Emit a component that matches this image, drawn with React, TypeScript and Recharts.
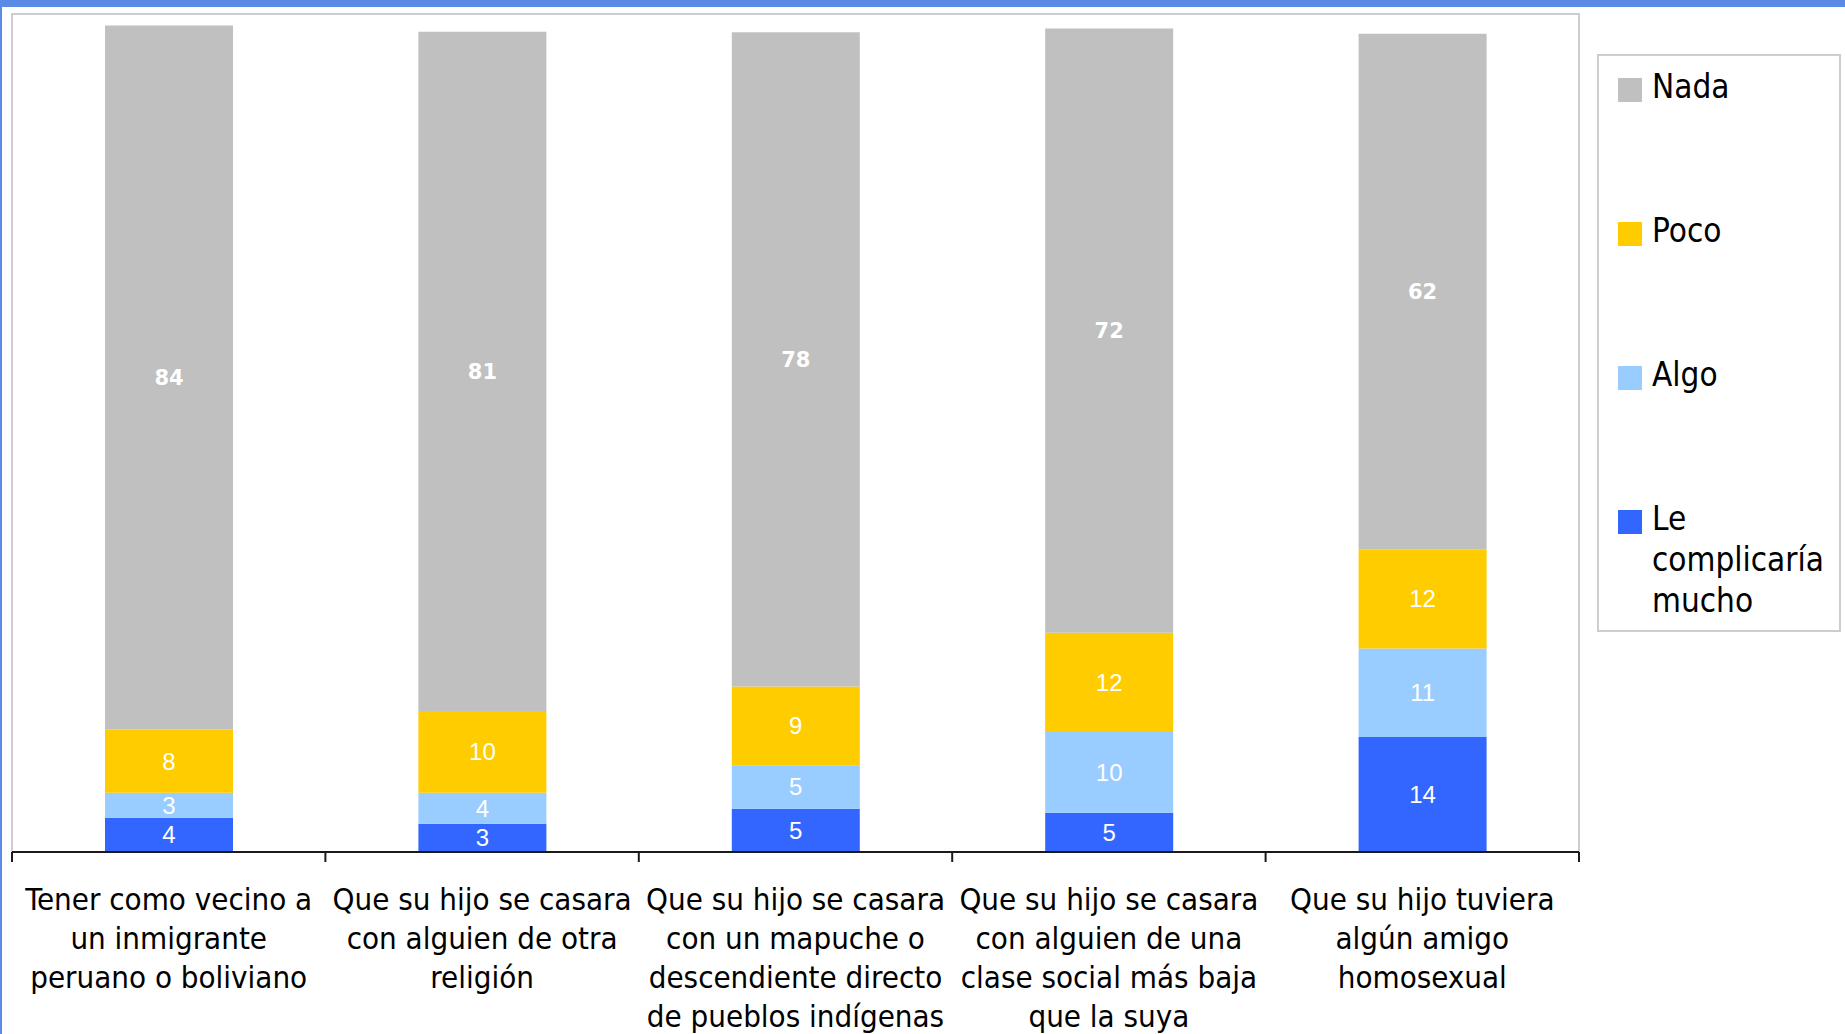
import { BarChart, Bar, XAxis, YAxis, LabelList } from 'recharts'

// categories (line breaks as in the original slide)
const categories = [
  'Tener como vecino a\nun inmigrante\nperuano o boliviano',
  'Que su hijo se casara\ncon alguien de otra\nreligión',
  'Que su hijo se casara\ncon un mapuche o\ndescendiente directo\nde pueblos indígenas',
  'Que su hijo se casara\ncon alguien de una\nclase social más baja\nque la suya',
  'Que su hijo tuviera\nalgún amigo\nhomosexual',
]

// stacked values (%), bottom to top; labels are shown rounded
const mucho = [4.1, 3.4, 5.2, 4.7, 13.8]
const algo = [3.0, 3.7, 5.2, 9.7, 10.6]
const poco = [7.6, 9.8, 9.45, 11.9, 11.9]
const nada = [84.4, 81.45, 78.45, 72.45, 61.8]

const series = [
  { key: 'mucho', name: 'Le complicaría mucho', color: '#3366FF', values: mucho },
  { key: 'algo', name: 'Algo', color: '#99CCFF', values: algo },
  { key: 'poco', name: 'Poco', color: '#FFCC00', values: poco },
  { key: 'nada', name: 'Nada', color: '#C0C0C0', values: nada },
]

const data = categories.map((cat, i) => {
  const row: any = { cat }
  series.forEach((s) => {
    row[s.key] = s.values[i]
  })
  return row
})

const W = 1845
const H = 1034
const FONT = '"DejaVu Sans Condensed", "DejaVu Sans", sans-serif'

// label + tick marks on the category boundaries (Excel style)
const CatTick = (props: any) => {
  const { x, y, payload, index, visibleTicksCount } = props
  const half = payload.offset || 0
  const lines = String(payload.value).split('\n')
  return (
    <g>
      <line x1={x - half} x2={x - half} y1={y} y2={y + 10} stroke="#1a1a1a" strokeWidth={2} />
      {index === visibleTicksCount - 1 && (
        <line x1={x + half} x2={x + half} y1={y} y2={y + 10} stroke="#1a1a1a" strokeWidth={2} />
      )}
      <text x={x} y={y} textAnchor="middle" fontFamily={FONT} fontSize={31} fill="#000">
        {lines.map((l, i) => (
          <tspan key={i} x={x} dy={i === 0 ? 58 : 39}>
            {l}
          </tspan>
        ))}
      </text>
    </g>
  )
}

export default function App() {
  const legendItems = [...series].reverse()
  return (
    <div style={{ position: 'fixed', left: 0, top: 0, width: W, height: H, background: '#fff', overflow: 'hidden' }}>
      <div style={{ position: 'absolute', left: 0, top: 0, width: W, height: 7, background: '#5B8BE5' }} />
      <div style={{ position: 'absolute', left: 0, top: 0, width: 2, height: H, background: '#5B8BE5' }} />
      <div
        style={{
          position: 'absolute',
          left: 11,
          top: 13,
          width: 1569,
          height: 840,
          border: '2px solid #cdcdcd',
          borderBottom: 'none',
          boxSizing: 'border-box',
        }}
      />
      <div style={{ position: 'absolute', left: 0, top: 0 }}>
        <BarChart width={W} height={H} data={data} margin={{ top: 18, right: 266, bottom: 0, left: 12 }} barSize={128}>
          <XAxis
            dataKey="cat"
            height={182}
            axisLine={{ stroke: '#1a1a1a', strokeWidth: 2 }}
            tickLine={false}
            tickSize={0}
            tickMargin={0}
            interval={0}
            tick={<CatTick />}
          />
          <YAxis hide domain={[0, 100]} />
          {series.map((s) => (
            <Bar key={s.key} dataKey={s.key} name={s.name} stackId="a" fill={s.color} isAnimationActive={false}>
              <LabelList
                dataKey={s.key}
                position="center"
                formatter={(v: any) => Math.round(Number(v))}
                fill="#fff"
                fontSize={s.key === 'nada' ? 21 : 24}
                fontWeight={s.key === 'nada' ? 'bold' : 'normal'}
                fontFamily={s.key === 'nada' ? '"DejaVu Sans", sans-serif' : '"Liberation Sans Narrow", "Liberation Sans", sans-serif'}
              />
            </Bar>
          ))}
        </BarChart>
      </div>
      <div
        style={{
          position: 'absolute',
          left: 1597,
          top: 54,
          width: 244,
          height: 578,
          border: '2px solid #cdcdcd',
          boxSizing: 'border-box',
          fontFamily: FONT,
          fontSize: 33,
          color: '#000',
        }}
      >
        {legendItems.map((s, i) => (
          <div key={s.key} style={{ position: 'absolute', left: 19, top: 20 + i * 144, display: 'flex', alignItems: 'flex-start' }}>
            <div style={{ width: 24, height: 24, background: s.color, marginTop: 2, flex: 'none' }} />
            <div style={{ marginLeft: 10, width: 180, lineHeight: '41px', marginTop: -10 }}>{s.name}</div>
          </div>
        ))}
      </div>
    </div>
  )
}
